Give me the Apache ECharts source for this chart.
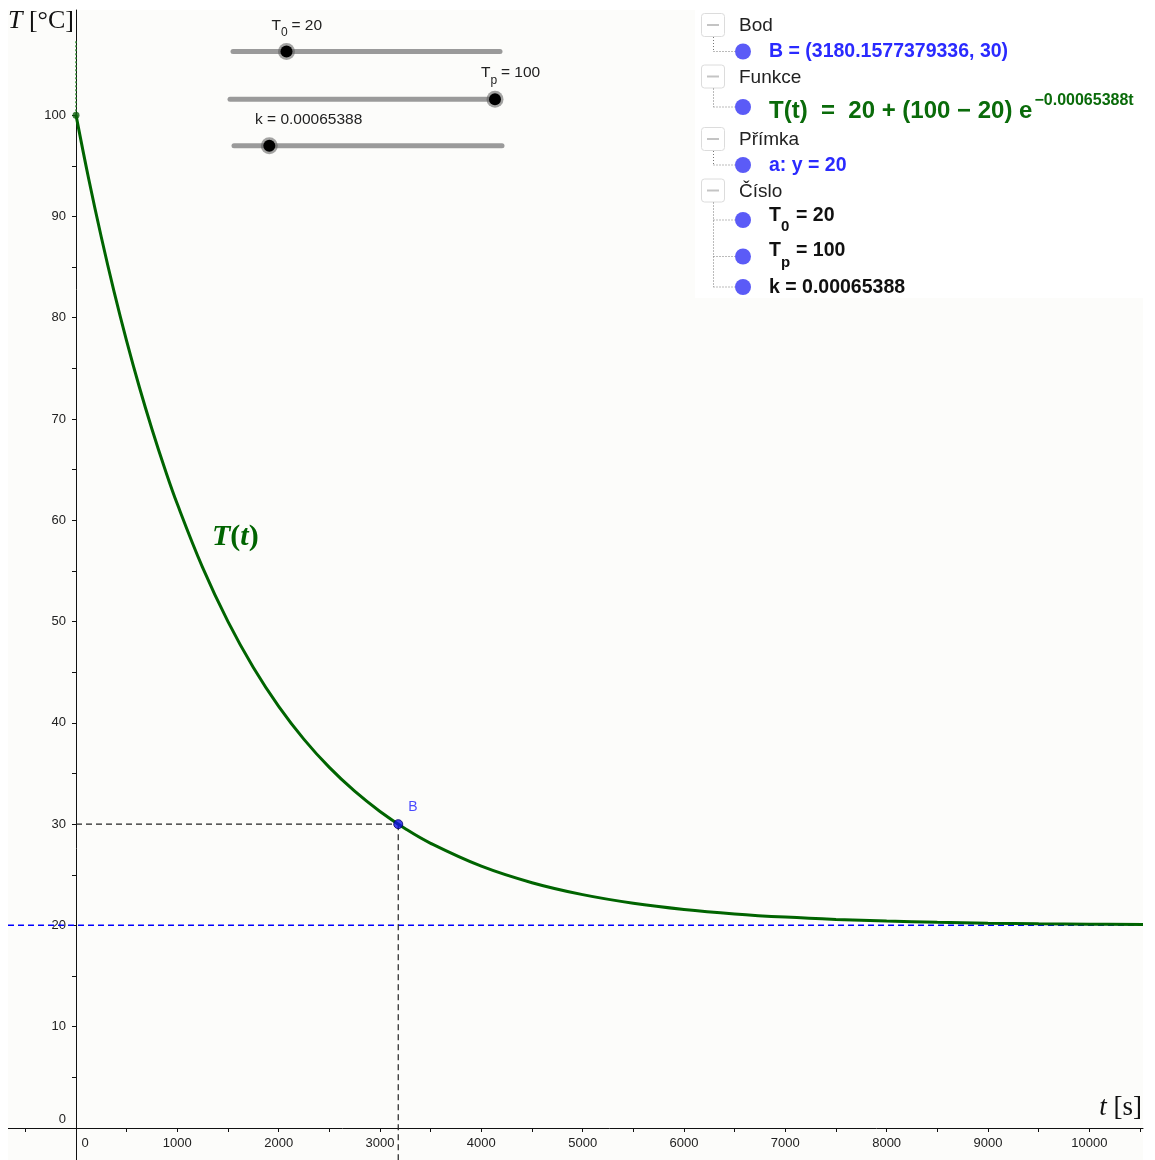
<!DOCTYPE html>
<html>
<head>
<meta charset="utf-8">
<script src="https://cdn.jsdelivr.net/npm/echarts@6.0.0/dist/echarts.min.js"></script>
<style>
html,body{margin:0;padding:0;background:#ffffff;}
#wrap{position:relative;width:1155px;height:1160px;overflow:hidden;}
#bg{position:absolute;left:8px;top:10px;width:1135px;height:1150px;background:#fcfcfa;}
#chart{position:absolute;left:0;top:0;width:1155px;height:1160px;}
</style>
</head>
<body>
<div id="wrap"><div id="bg"></div><div id="chart"></div></div>
<script>
// ---- data ----
const timeS = [0,125,250,375,500,625,750,875,1000,1250,1500,1750,2000,2250,2500,2750,3000,3250,3500,4000,4500,5000,5500,6000,6500,7000,7500,8000,8500,9000,9500,10000,10530];
const tempC = [100,93.72,87.94,82.60,77.69,73.16,68.99,65.14,61.60,55.33,50.00,45.47,41.63,38.37,35.60,33.25,31.25,29.55,28.11,25.85,24.22,23.04,22.19,21.58,21.14,20.82,20.59,20.43,20.31,20.22,20.16,20.12,20.08];
const pointB = [3180.1577379336, 30];
const startPoint = [0, 100];
const asymptoteY = 20;
const viewT = [-671, 10530];      // visible t range
const viewTemp = [-3.18, 110.38]; // visible T range
const xTickValues = [0,500,1000,1500,2000,2500,3000,3500,4000,4500,5000,5500,6000,6500,7000,7500,8000,8500,9000,9500,10000,10500];
const xLabelValues = [0,1000,2000,3000,4000,5000,6000,7000,8000,9000,10000];
const yTickValues = [0,5,10,15,20,25,30,35,40,45,50,55,60,65,70,75,80,85,90,95,100];
const yLabelValues = [0,10,20,30,40,50,60,70,80,90,100];

const curve = timeS.map((t, i) => [t, tempC[i]]);

const chart = echarts.init(document.getElementById('chart'), null, {renderer: 'canvas'});

const SANS = '"Liberation Sans", Arial, sans-serif';
const SERIF = '"Liberation Serif", "Times New Roman", serif';

function sliderLine(x1, x2, y) {
  return {type: 'line', shape: {x1: x1, y1: y, x2: x2, y2: y}, style: {stroke: '#9a9a9a', lineWidth: 5, lineCap: 'round'}};
}
function knob(x, y) {
  return [
    {type: 'circle', shape: {cx: x, cy: y, r: 8.5}, style: {fill: 'rgba(90,90,90,0.55)'}},
    {type: 'circle', shape: {cx: x, cy: y, r: 6}, style: {fill: '#000'}}
  ];
}
function txt(x, y, text, font, color) {
  return {type: 'text', x: x, y: y, style: {text: text, font: font, fill: color, verticalAlign: 'middle', textAlign: 'left'}};
}
function box(cy) {
  return [
    {type: 'rect', shape: {x: 701.5, y: cy - 11.5, width: 23, height: 23, r: 3}, style: {fill: '#fff', stroke: '#dcdcdc', lineWidth: 1}},
    {type: 'line', shape: {x1: 707, y1: cy, x2: 719, y2: cy}, style: {stroke: '#c4c4c4', lineWidth: 2}}
  ];
}
function dotted(x1, y1, x2, y2) {
  return {type: 'line', shape: {x1: x1, y1: y1, x2: x2, y2: y2}, style: {stroke: '#777', lineWidth: 1, lineDash: [1, 2]}};
}
function marble(cy) {
  return {type: 'circle', shape: {cx: 743, cy: cy, r: 8}, style: {fill: '#5b5bf7'}};
}
function plain(x1, y1, x2, y2) {
  return {type: 'line', shape: {x1: x1, y1: y1, x2: x2, y2: y2}, style: {stroke: '#111', lineWidth: 1}};
}

const graphics = [];
// axis line parts outside the positive quadrant
graphics.push(plain(8, 1128.5, 76, 1128.5));
graphics.push(plain(76.5, 1128, 76.5, 1160));
graphics.push(plain(25.5, 1128, 25.5, 1132));
// algebra panel background
graphics.push({type: 'rect', shape: {x: 695, y: 0, width: 448, height: 298}, style: {fill: '#ffffff'}});
// sliders
graphics.push(sliderLine(233, 500, 51.5));
graphics.push(...knob(286.5, 51.5));
graphics.push(sliderLine(230, 495, 99.3));
graphics.push(...knob(495, 99.3));
graphics.push(sliderLine(234, 502, 145.7));
graphics.push(...knob(269.3, 145.7));
// slider labels
graphics.push(txt(271.5, 26, 'T', '15.5px ' + SANS, '#222'));
graphics.push(txt(281, 33, '0', '12px ' + SANS, '#222'));
graphics.push(txt(291.5, 26, '= 20', '15.5px ' + SANS, '#222'));
graphics.push(txt(481, 73, 'T', '15.5px ' + SANS, '#222'));
graphics.push(txt(490.5, 80.5, 'p', '12px ' + SANS, '#222'));
graphics.push(txt(501, 73, '= 100', '15.5px ' + SANS, '#222'));
graphics.push(txt(255, 119.5, 'k = 0.00065388', '15.5px ' + SANS, '#222'));
// axis names
graphics.push({type: 'text', x: 8, y: 21, style: {
  text: '{i|T} [°C]', font: '26px ' + SERIF, fill: '#111', verticalAlign: 'middle',
  rich: {i: {fontStyle: 'italic', fontFamily: SERIF, fontSize: 26, fill: '#111'}}
}});
graphics.push({type: 'text', x: 1142, y: 1108, style: {
  text: '{i|t} [s]', font: '27px ' + SERIF, fill: '#111', verticalAlign: 'middle', textAlign: 'right',
  rich: {i: {fontStyle: 'italic', fontFamily: SERIF, fontSize: 27, fill: '#111'}}
}});
// curve name
graphics.push({type: 'text', x: 212, y: 537, style: {
  text: '{i|T}{n|(}{i|t}{n|)}', fill: '#006400', verticalAlign: 'middle',
  rich: {
    i: {fontStyle: 'italic', fontWeight: 'bold', fontFamily: SERIF, fontSize: 30, fill: '#006400'},
    n: {fontWeight: 'bold', fontFamily: SERIF, fontSize: 30, fill: '#006400'}
  }
}});
// algebra view: boxes and headers
[25, 76.5, 139, 190.5].forEach(cy => graphics.push(...box(cy)));
graphics.push(txt(739, 26, 'Bod', '19px ' + SANS, '#222'));
graphics.push(txt(739, 77.5, 'Funkce', '19px ' + SANS, '#222'));
graphics.push(txt(739, 140, 'Přímka', '19px ' + SANS, '#222'));
graphics.push(txt(739, 191.5, 'Číslo', '19px ' + SANS, '#222'));
// tree lines
graphics.push(dotted(713.5, 37, 713.5, 51.5), dotted(713.5, 51.5, 735, 51.5));
graphics.push(dotted(713.5, 88.5, 713.5, 107), dotted(713.5, 107, 735, 107));
graphics.push(dotted(713.5, 151, 713.5, 165), dotted(713.5, 165, 735, 165));
graphics.push(dotted(713.5, 202.5, 713.5, 287), dotted(713.5, 220, 735, 220), dotted(713.5, 256.5, 735, 256.5), dotted(713.5, 287, 735, 287));
[51.5, 107, 165, 220, 256.5, 287].forEach(cy => graphics.push(marble(cy)));
// items
graphics.push(txt(769, 52, 'B = (3180.1577379336, 30)', 'bold 19.5px ' + SANS, '#2a2aff'));
graphics.push({type: 'text', x: 769, y: 108, style: {
  text: '{b|T(t)  =  20 + (100 − 20) e}{s|−0.00065388t}', fill: '#0a6b0a', verticalAlign: 'middle',
  rich: {
    b: {fontWeight: 'bold', fontFamily: SANS, fontSize: 24, fill: '#0a6b0a', lineHeight: 30, verticalAlign: 'bottom'},
    s: {fontWeight: 'bold', fontFamily: SANS, fontSize: 16, fill: '#0a6b0a', verticalAlign: 'top', padding: [0, 0, 0, 2]}
  }
}});
graphics.push(txt(769, 166, 'a: y = 20', 'bold 19.5px ' + SANS, '#2a2aff'));
graphics.push(txt(769, 216, 'T', 'bold 19.5px ' + SANS, '#111'));
graphics.push(txt(781, 226.5, '0', 'bold 15px ' + SANS, '#111'));
graphics.push(txt(796, 216, '= 20', 'bold 19.5px ' + SANS, '#111'));
graphics.push(txt(769, 250.5, 'T', 'bold 19.5px ' + SANS, '#111'));
graphics.push(txt(781, 263, 'p', 'bold 15px ' + SANS, '#111'));
graphics.push(txt(796, 250.5, '= 100', 'bold 19.5px ' + SANS, '#111'));
graphics.push(txt(769, 288, 'k = 0.00065388', 'bold 19.5px ' + SANS, '#111'));

const option = {
  backgroundColor: 'transparent',
  animation: false,
  grid: [
    {left: 76, right: 12, top: 10, bottom: 32, containLabel: false},
    {left: 8, right: 12, top: 10, bottom: 0, containLabel: false}
  ],
  xAxis: [{
    type: 'value', gridIndex: 0, min: 0, max: viewT[1],
    splitLine: {show: false},
    axisLine: {onZero: false, lineStyle: {color: '#111', width: 1}},
    axisTick: {show: true, length: 4, customValues: xTickValues, lineStyle: {color: '#111'}},
    axisLabel: {
      customValues: xLabelValues, margin: 9, color: '#222', fontSize: 13, fontFamily: SANS,
      formatter: v => v === 0 ? '{z|0}' : String(v),
      rich: {z: {padding: [0, 0, 0, 18], fontSize: 13, fontFamily: SANS, color: '#222'}}
    }
  }, {
    type: 'value', gridIndex: 1, min: viewT[0], max: viewT[1], show: false,
    splitLine: {show: false}, axisLine: {show: false, onZero: false}, axisTick: {show: false}, axisLabel: {show: false}
  }],
  yAxis: [{
    type: 'value', gridIndex: 0, min: 0, max: viewTemp[1],
    splitLine: {show: false},
    axisLine: {onZero: false, lineStyle: {color: '#111', width: 1}},
    axisTick: {show: true, length: 4, customValues: yTickValues, lineStyle: {color: '#111'}},
    axisLabel: {
      customValues: yLabelValues, margin: 10, color: '#222', fontSize: 13, fontFamily: SANS,
      formatter: v => v === 0 ? '{z|0}' : String(v),
      rich: {z: {padding: [0, 0, 17, 0], fontSize: 13, fontFamily: SANS, color: '#222'}}
    }
  }, {
    type: 'value', gridIndex: 1, min: viewTemp[0], max: viewTemp[1], show: false,
    splitLine: {show: false}, axisLine: {show: false, onZero: false}, axisTick: {show: false}, axisLabel: {show: false}
  }],
  series: [
    {
      name: 'a: y = 20', type: 'line', xAxisIndex: 1, yAxisIndex: 1,
      data: [[viewT[0], asymptoteY], [viewT[1], asymptoteY]],
      symbol: 'none', silent: true, z: 3, color: '#0000ff',
      itemStyle: {color: '#0000ff'},
      lineStyle: {color: '#0000ff', width: 1.4, type: [6, 4], opacity: 1}
    },
    {
      name: 'guideH', type: 'line', data: [[0, pointB[1]], [pointB[0], pointB[1]]],
      symbol: 'none', silent: true, clip: false, color: '#222',
      lineStyle: {color: '#222', width: 1.2, type: [6, 4]}
    },
    {
      name: 'guideV', type: 'line', data: [[pointB[0], pointB[1]], [pointB[0], viewTemp[0]]],
      symbol: 'none', silent: true, clip: false, color: '#222',
      lineStyle: {color: '#222', width: 1.2, type: [6, 4]}
    },
    {
      name: 'T(t)', type: 'line', data: curve, smooth: 0.4, symbol: 'none', clip: false, color: '#006400',
      lineStyle: {color: '#006400', width: 3}, z: 5
    },
    {
      name: 'start', type: 'line', data: [[0, startPoint[1]], [0, 107.5]], symbol: 'none', clip: false,
      lineStyle: {color: '#2c8a2c', width: 1.5, type: [2, 2]}, z: 4
    },
    {
      name: 'start point', type: 'scatter', data: [startPoint], symbolSize: 7, clip: false,
      itemStyle: {color: '#0b5e0b'}, z: 6
    },
    {
      name: 'B', type: 'scatter', data: [pointB], symbolSize: 9,
      itemStyle: {color: '#1010e8', borderColor: '#000066', borderWidth: 1}, z: 7,
      label: {show: true, formatter: 'B', position: 'right', offset: [0, -17], color: '#1a1aff', fontSize: 14, fontFamily: SANS}
    }
  ],
  graphic: graphics
};
chart.setOption(option);
</script>
</body>
</html>
